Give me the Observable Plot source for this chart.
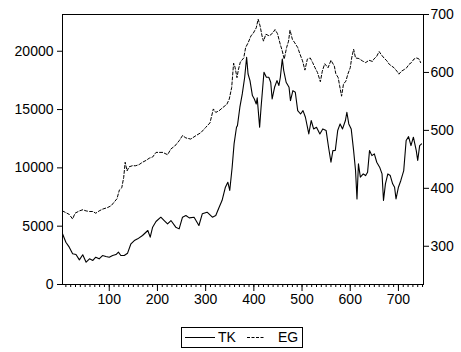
<!DOCTYPE html>
<html><head><meta charset="utf-8">
<script src="https://cdn.jsdelivr.net/npm/d3@7"></script>
<script src="https://cdn.jsdelivr.net/npm/@observablehq/plot@0.6"></script>
<style>
body{margin:0;background:#fff;font-family:"Liberation Sans",Arial,sans-serif;}
#wrap{position:relative;width:461px;height:352px;overflow:hidden;}
#legend{position:absolute;left:181px;top:327px;}
</style></head><body>
<div id="wrap"><div id="chart"></div><svg id="legend" width="122" height="21"></svg></div>
<script>
const tkX = [3,10,17,24,31,38,45,52,59,66,72,79,86,93,100,107,114,119,124,131,138,145,152,159,169,180,185,190,197,207,214,221,228,238,245,252,259,266,276,286,293,303,314,321,328,334,341,346,350,355,359,364,366,371,376,381,385,388,392,397,401,405,407,412,415,421,426,431,435,438,443,448,452,455,459,462,467,473,476,481,486,491,497,502,507,514,519,524,530,537,543,550,555,560,564,569,574,579,584,590,593,597,602,607,611,614,617,621,627,632,636,640,645,650,655,661,666,669,673,678,683,688,692,695,700,705,711,716,721,726,731,737,740,744,748];
const tkY = [4345,3625,3200,2630,2570,2115,2545,1910,2200,2060,2340,2200,2485,2400,2340,2485,2570,2770,2485,2485,2685,3490,3770,3915,4200,4630,4060,4915,5400,5770,5485,5200,5485,4915,4770,5770,5915,5715,5770,5060,6060,6200,5770,5915,6630,7200,8340,8770,8060,10050,12060,13480,13620,15200,16340,17770,19480,18050,17480,16200,15910,15480,16000,13480,15200,18200,17770,17770,17340,15910,16910,17480,17060,17770,19340,18340,17340,16910,15770,16620,16480,14910,14620,14910,14340,12910,14060,13340,13480,12910,13340,13200,11770,10480,11480,11500,13200,13770,13340,14060,14770,13770,13340,11480,9770,7340,10340,9200,9480,9340,9630,11480,11050,11200,10480,10060,9480,7200,8630,9480,9340,8630,8340,7340,8340,8920,9770,12340,12680,11910,12630,11480,10630,11910,12060];
const egX = [3,10,17,24,29,38,45,52,59,66,72,79,86,97,104,110,116,121,126,130,133,137,141,148,155,162,169,176,183,190,197,211,221,228,236,245,252,259,269,280,290,300,309,316,321,328,335,344,349,354,358,361,365,368,372,379,383,388,394,399,405,409,413,417,420,425,432,439,444,449,455,459,463,468,472,475,480,485,491,496,501,506,511,517,522,527,532,538,542,547,554,560,567,570,575,578,582,586,591,595,600,603,607,611,618,625,632,639,646,649,655,660,665,670,676,681,686,691,697,701,706,712,717,722,727,732,738,743,746];
const egY = [361,358,355,347,357,361,363,361,360,360,357,361,364,367,370,376,382,397,401,419,445,430,437,439,439,441,445,448,452,454,462,462,458,468,473,482,491,487,485,491,496,505,513,537,531,534,539,545,554,574,616,609,591,605,618,625,643,651,663,668,677,692,680,663,654,666,663,668,674,667,648,637,623,643,654,673,657,651,643,631,620,604,623,625,617,608,600,584,602,615,608,621,611,598,591,577,559,580,585,597,608,625,640,625,624,620,617,621,619,623,628,636,630,625,620,614,611,608,602,597,602,605,608,614,617,623,625,623,617,607];
const leftTicks = [0,5000,10000,15000,20000];
const rightTicks = [300,400,500,600,700];
const xTicks = [100,200,300,400,500,600,700];
const xMinor = d3.range(10,751,10);
const leftMax = 23150, rightMin = 234, rightMax = 700;
const toLeft = v => (v - rightMin) / (rightMax - rightMin) * leftMax;
const fromLeft = d => rightMin + d / leftMax * (rightMax - rightMin);
const tk = tkX.map((x, i) => ({x, y: tkY[i]}));
const eg = egX.map((x, i) => ({x, y: toLeft(egY[i])}));
const font = "'Liberation Sans', Arial, sans-serif";
const chart = Plot.plot({
  width: 461, height: 315,
  marginLeft: 62, marginRight: 38, marginTop: 14, marginBottom: 31,
  style: {fontFamily: font, fontSize: "14px", color: "#000", background: "#fff"},
  x: {domain: [3, 752]},
  y: {domain: [0, leftMax]},
  marks: [
    Plot.line(eg, {x: "x", y: "y", stroke: "#000", strokeWidth: 1, strokeDasharray: "3,2"}),
    Plot.line(tk, {x: "x", y: "y", stroke: "#000", strokeWidth: 1.1}),
    Plot.frame({stroke: "#000", strokeWidth: 1}),
    Plot.axisY({anchor: "left", ticks: leftTicks, tickSize: 5, tickPadding: 4, tickFormat: d => String(d), label: null}),
    Plot.axisY({anchor: "right", ticks: rightTicks.map(toLeft), tickSize: 5, tickPadding: 2, tickFormat: d => String(Math.round(fromLeft(d))), label: null}),
    Plot.axisX({ticks: xMinor, tickSize: 3, tickFormat: () => "", label: null}),
    Plot.axisX({ticks: xTicks, tickSize: 7, tickPadding: 3, tickFormat: d => String(d), label: null})
  ]
});
document.getElementById("chart").appendChild(chart);
const lg = d3.select("#legend").style("font-family", font);
lg.append("rect").attr("x", 0.5).attr("y", 0.5).attr("width", 121).attr("height", 20).attr("fill", "#fff").attr("stroke", "#000");
lg.append("line").attr("x1", 4).attr("x2", 34).attr("y1", 10.5).attr("y2", 10.5).attr("stroke", "#000");
lg.append("text").attr("x", 37).attr("y", 15).attr("font-size", 14).text("TK");
lg.append("line").attr("x1", 66).attr("x2", 84).attr("y1", 10.5).attr("y2", 10.5).attr("stroke", "#000").attr("stroke-dasharray", "3,1.5");
lg.append("text").attr("x", 97).attr("y", 15).attr("font-size", 14).text("EG");
</script>
</body></html>
